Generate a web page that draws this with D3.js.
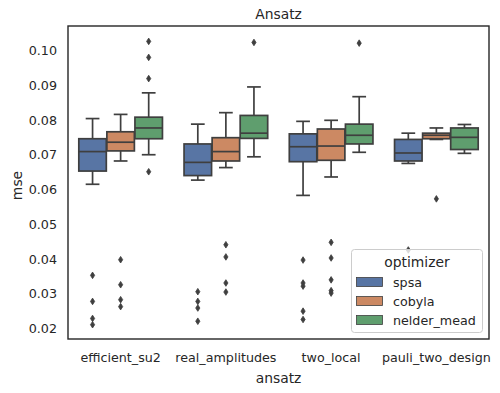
<!DOCTYPE html>
<html>
<head>
<meta charset="utf-8">
<script src="https://cdn.jsdelivr.net/npm/d3@7"></script>
<style>
html,body{margin:0;padding:0;background:#fff;}
svg{display:block;font-family:"DejaVu Sans",sans-serif;}
</style>
</head>
<body>
<svg id="chart" width="500" height="393"></svg>
<script>
// ---- data ----
const categories = ["efficient_su2", "real_amplitudes", "two_local", "pauli_two_design"];
const optimizers = ["spsa", "cobyla", "nelder_mead"];
const colors = ["#5875a4", "#cc8963", "#5f9e6e"];
const yTicks = [0.02, 0.03, 0.04, 0.05, 0.06, 0.07, 0.08, 0.09, 0.10];

// rows: optimizer (spsa, cobyla, nelder_mead); columns: categories
const whiskerLow = [
  [0.0615, 0.0627, 0.0583, 0.0675],
  [0.0682, 0.0663, 0.0636, 0.0744],
  [0.0700, 0.0694, 0.0707, 0.0704]
];
const q1 = [
  [0.0653, 0.0640, 0.0680, 0.0682],
  [0.0711, 0.0682, 0.0684, 0.0746],
  [0.0746, 0.0747, 0.0731, 0.0715]
];
const median = [
  [0.0709, 0.0678, 0.0723, 0.0705],
  [0.0736, 0.0709, 0.0725, 0.0756],
  [0.0777, 0.0762, 0.0756, 0.0750]
];
const q3 = [
  [0.0746, 0.0731, 0.0760, 0.0744],
  [0.0766, 0.0749, 0.0774, 0.0762],
  [0.0808, 0.0813, 0.0788, 0.0777]
];
const whiskerHigh = [
  [0.0804, 0.0788, 0.0796, 0.0762],
  [0.0816, 0.0821, 0.0799, 0.0777],
  [0.0878, 0.0895, 0.0867, 0.0787]
];
const outliers = [
  [[0.0353, 0.0278, 0.0229, 0.0211], [0.0306, 0.0278, 0.0259, 0.0221], [0.0397, 0.0331, 0.0322, 0.0250, 0.0226], [0.0426]],
  [[0.0398, 0.0326, 0.0283, 0.0263], [0.0441, 0.0406, 0.0331, 0.0305], [0.0448, 0.0403, 0.0340, 0.0309, 0.0302], [0.0573]],
  [[0.1026, 0.0980, 0.0919, 0.0651], [0.1023], [0.1021], []]
];

// ---- layout ----
const svg = d3.select("#chart");
const mLeft = 68, mRight = 489, mTop = 26, mBottom = 339;
const dark = "#262626";
const lineGray = "#3f3f3f";

const x = d3.scaleBand().domain(categories).range([mLeft, mRight]).padding(0);
const hueBand = d3.scaleBand().domain(optimizers).range([0, x.bandwidth() * 0.8]);
const y = d3.scaleLinear().domain([0.01699, 0.10703]).range([mBottom, mTop]);

// boxes
const boxW = hueBand.bandwidth() * 0.98;
const g = svg.append("g");
optimizers.forEach((opt, oi) => {
  categories.forEach((cat, ci) => {
    const cx = x(cat) + x.bandwidth() * 0.1 + hueBand(opt) + hueBand.bandwidth() / 2;
    const gg = g.append("g");
    gg.append("line").attr("x1", cx).attr("x2", cx)
      .attr("y1", y(q3[oi][ci])).attr("y2", y(whiskerHigh[oi][ci]))
      .attr("stroke", lineGray).attr("stroke-width", 1.7);
    gg.append("line").attr("x1", cx).attr("x2", cx)
      .attr("y1", y(q1[oi][ci])).attr("y2", y(whiskerLow[oi][ci]))
      .attr("stroke", lineGray).attr("stroke-width", 1.7);
    [whiskerHigh[oi][ci], whiskerLow[oi][ci]].forEach(v => {
      gg.append("line").attr("x1", cx - boxW / 4).attr("x2", cx + boxW / 4)
        .attr("y1", y(v)).attr("y2", y(v))
        .attr("stroke", lineGray).attr("stroke-width", 1.7);
    });
    gg.append("rect").attr("x", cx - boxW / 2).attr("width", boxW)
      .attr("y", y(q3[oi][ci])).attr("height", y(q1[oi][ci]) - y(q3[oi][ci]))
      .attr("fill", colors[oi]).attr("stroke", lineGray).attr("stroke-width", 1.7);
    gg.append("line").attr("x1", cx - boxW / 2).attr("x2", cx + boxW / 2)
      .attr("y1", y(median[oi][ci])).attr("y2", y(median[oi][ci]))
      .attr("stroke", lineGray).attr("stroke-width", 1.7);
    outliers[oi][ci].forEach(v => {
      const py = y(v);
      gg.append("path")
        .attr("d", `M${cx},${py - 3.3}L${cx + 2.1},${py}L${cx},${py + 3.3}L${cx - 2.1},${py}Z`)
        .attr("fill", lineGray).attr("stroke", lineGray).attr("stroke-width", 0.8);
    });
  });
});

// axes frame
svg.append("rect").attr("x", mLeft).attr("y", mTop).attr("width", mRight - mLeft).attr("height", mBottom - mTop)
  .attr("fill", "none").attr("stroke", dark).attr("stroke-width", 1.4);

// y axis tick labels
const yAxis = d3.axisLeft(y).tickValues(yTicks).tickSize(0).tickPadding(11).tickFormat(d3.format(".2f"));
const ya = svg.append("g").attr("transform", `translate(${mLeft},0)`).call(yAxis);
ya.select(".domain").remove();
ya.selectAll("text").attr("font-size", "12.7px").attr("fill", dark).attr("font-family", "DejaVu Sans");

// x axis tick labels
const xAxis = d3.axisBottom(x).tickSize(0).tickPadding(0);
const xa = svg.append("g").attr("transform", `translate(0,${mBottom})`).call(xAxis);
xa.select(".domain").remove();
xa.selectAll("text").attr("font-size", "12.7px").attr("fill", dark).attr("font-family", "DejaVu Sans")
  .attr("dy", null).attr("y", 23);

// labels
svg.append("text").attr("x", (mLeft + mRight) / 2).attr("y", 18.5).attr("text-anchor", "middle")
  .attr("font-size", "13.86px").attr("fill", dark).text("Ansatz");
svg.append("text").attr("x", (mLeft + mRight) / 2).attr("y", 382.5).attr("text-anchor", "middle")
  .attr("font-size", "13.86px").attr("fill", dark).text("ansatz");
svg.append("text").attr("transform", "translate(21.5,185.5) rotate(-90)").attr("text-anchor", "middle")
  .attr("font-size", "13.86px").attr("fill", dark).text("mse");

// legend
const lg = svg.append("g");
lg.append("rect").attr("x", 351.5).attr("y", 249.5).attr("width", 131).attr("height", 83).attr("rx", 3)
  .attr("fill", "#fff").attr("fill-opacity", 0.8).attr("stroke", "#cccccc").attr("stroke-width", 1);
lg.append("text").attr("x", 417).attr("y", 266.5).attr("text-anchor", "middle")
  .attr("font-size", "13.86px").attr("fill", dark).text("optimizer");
optimizers.forEach((opt, i) => {
  const yy = 282 + i * 19;
  lg.append("rect").attr("x", 356.5).attr("y", yy - 4.5).attr("width", 26).attr("height", 9)
    .attr("fill", colors[i]).attr("stroke", lineGray).attr("stroke-width", 0.8);
  lg.append("text").attr("x", 393).attr("y", yy + 4.5).attr("font-size", "12.7px").attr("fill", dark).text(opt);
});
</script>
</body>
</html>
